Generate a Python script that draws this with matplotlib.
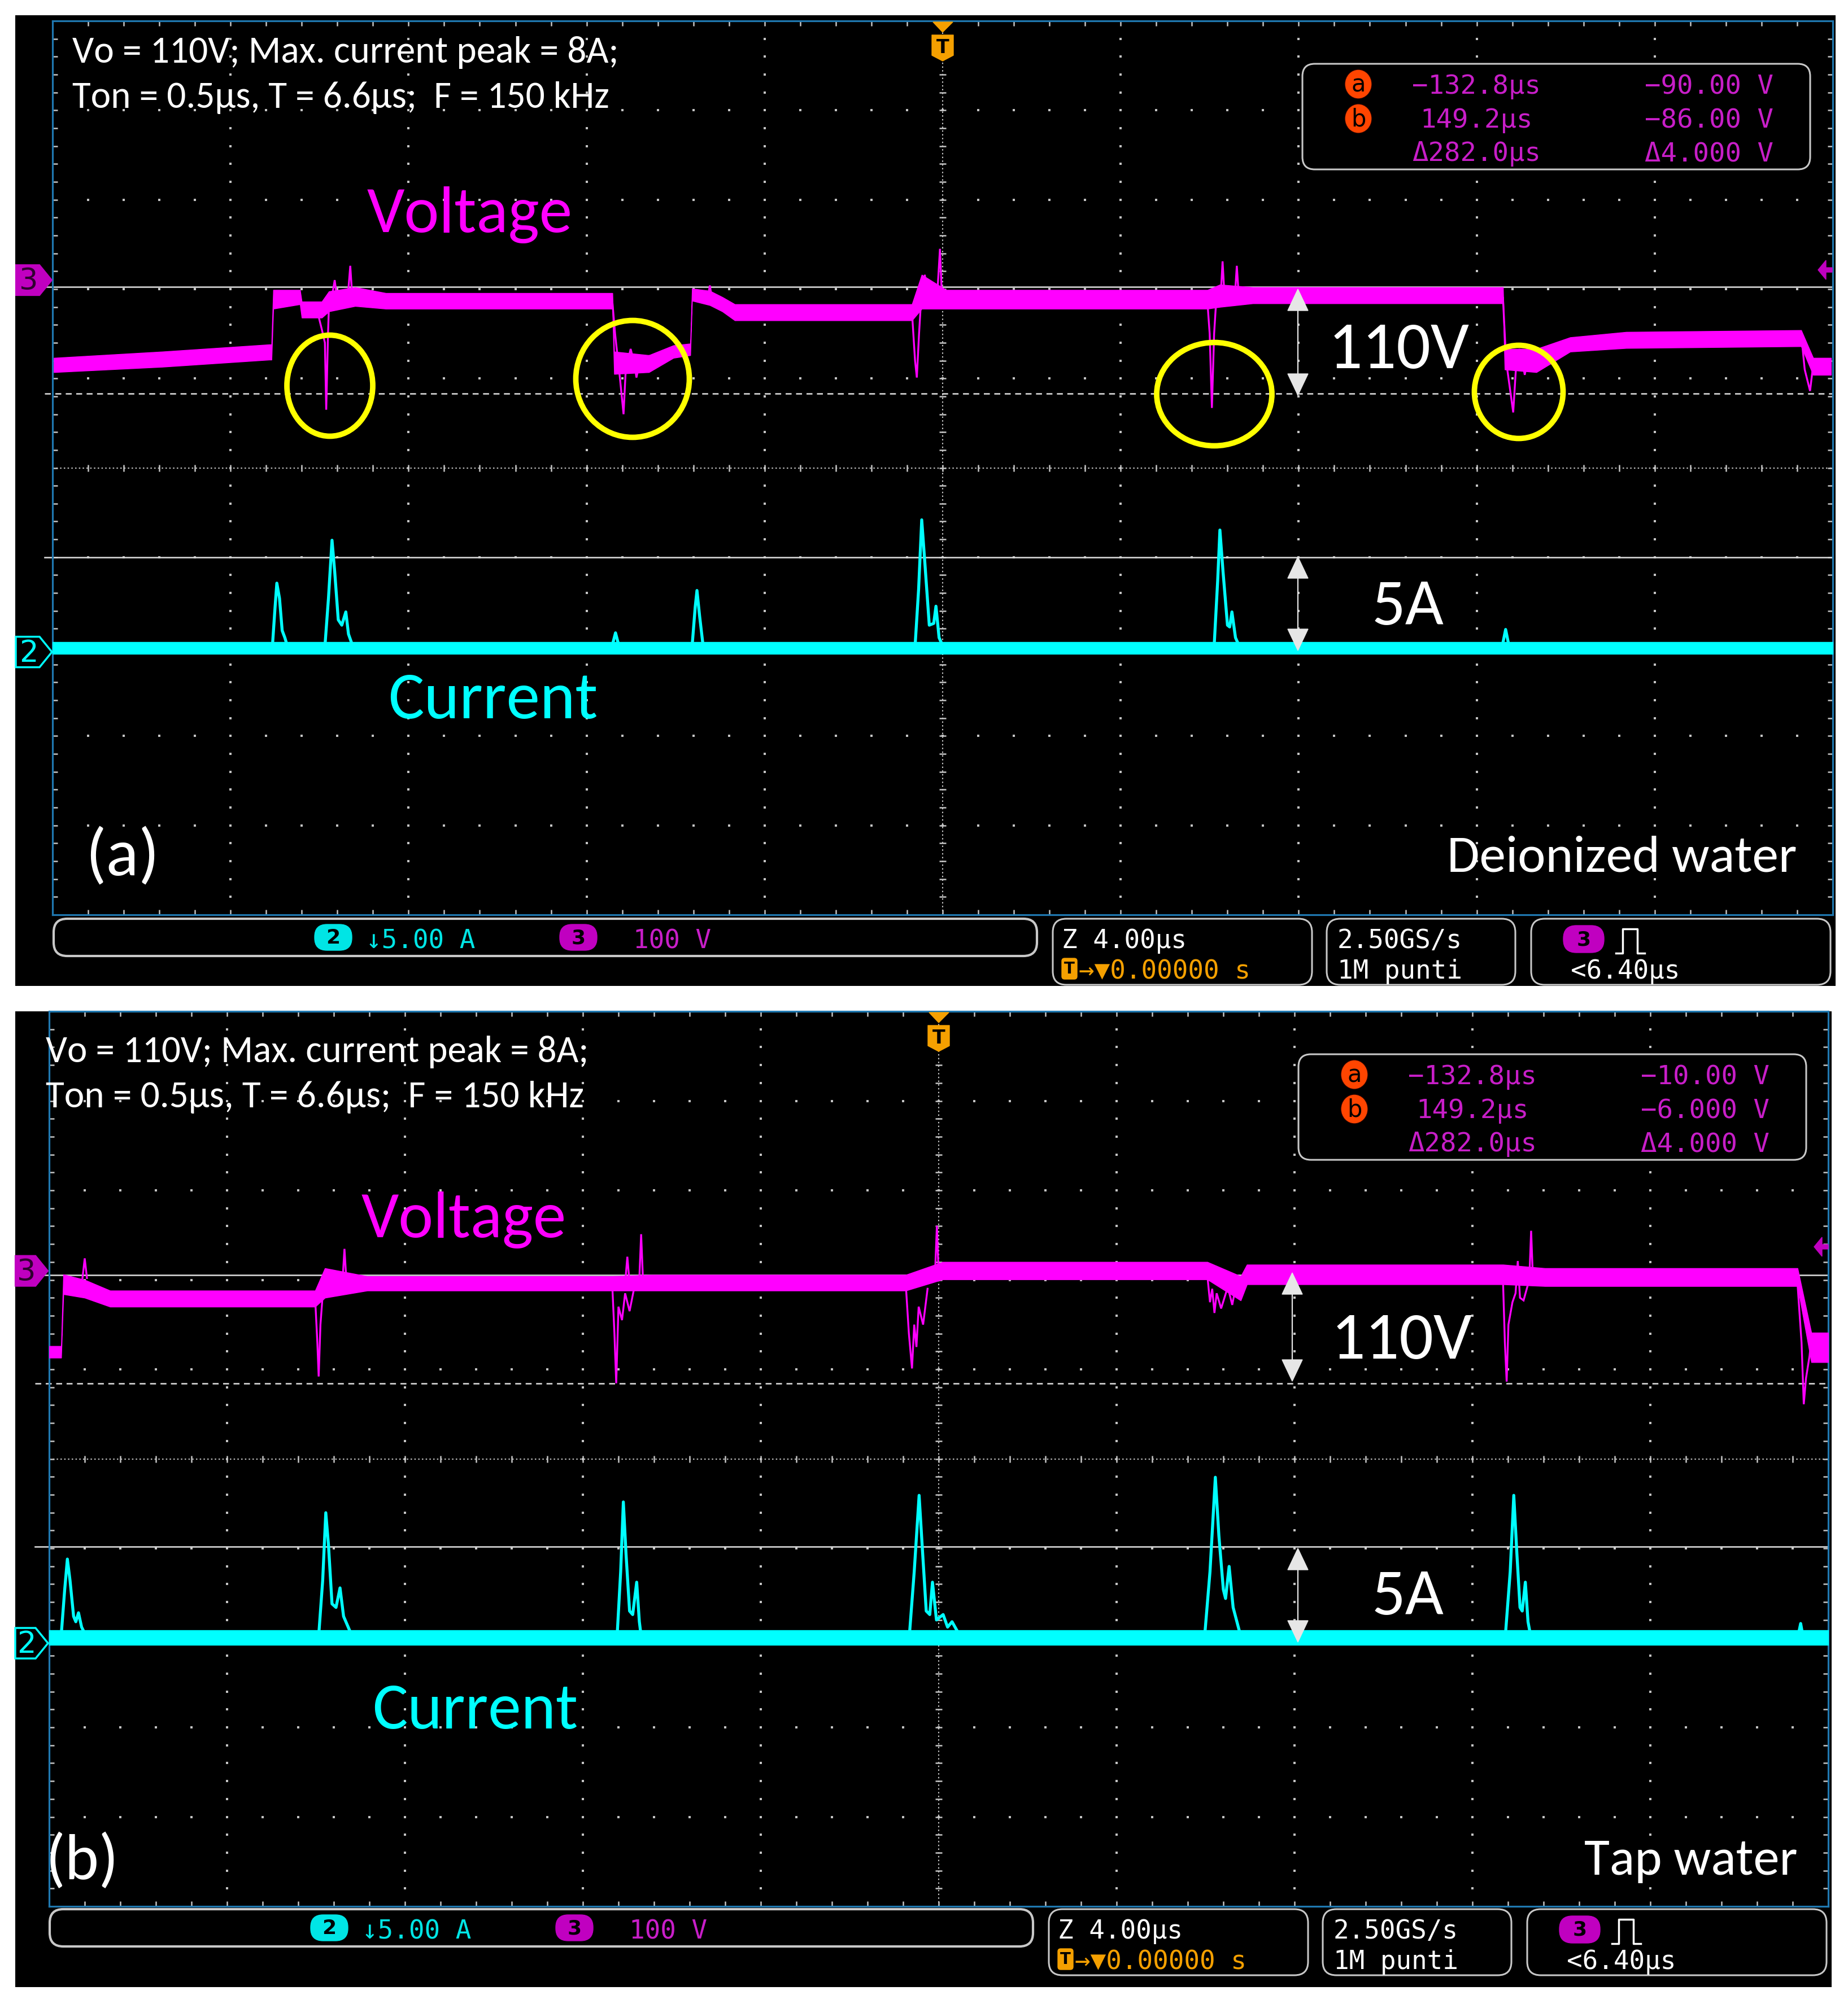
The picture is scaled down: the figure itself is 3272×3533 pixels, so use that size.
import numpy as np
import matplotlib
matplotlib.use("Agg")
import matplotlib.pyplot as plt
from matplotlib.patches import Rectangle, Polygon, Ellipse, FancyBboxPatch
from matplotlib import font_manager as fm

# ---------------------------------------------------------------- data
# oscilloscope settings: 4 us/div (10 div), ch3 100 V/div, ch2 5 A/div
T_RANGE = (-20.0, 20.0)
V_PER_DIV = 100.0
A_PER_DIV = 5.0
V_OFF_DIV = 2.10      # ch3 ground marker, divisions above centre
I_OFF_DIV = -2.06     # ch2 ground marker, divisions above centre

# ---- panel (a) deionized water : voltage band envelope (V)
VA_T   = [-19.97, -17.54, -15.13, -15.08, -15.04, -14.44, -14.40, -13.95, -13.79, -13.20,
          -12.51, -7.42, -7.38, -6.60, -6.05, -5.67, -5.63, -5.23, -4.95, -4.67,
          -0.69, -0.47, 0.08, 5.95, 6.23, 6.97, 12.59, 12.63, 13.34, 14.10,
          15.36, 19.29, 19.56, 19.96]
VA_TOP = [-87, -80, -72, -72, -11, -11, -24, -24, -12.6, -8,
          -14.5, -14.5, -80, -84, -73, -71, -9.5, -12, -19, -27,
          -27, 6, -11, -11, -5, -8, -8, -77, -77, -64,
          -58, -56, -87, -87]
VA_BOT = [-103, -97, -89, -89, -32, -27, -42, -42, -35, -29,
          -32, -32, -105, -103, -87, -84, -23, -28, -35, -45,
          -45, -32, -32, -32, -30, -26, -26, -100, -103, -80,
          -76, -74, -106, -106]
VA_SPIKES = [
    [(-14.05, -35), (-13.95, -55), (-13.88, -70), (-13.85, -145), (-13.81, -60), (-13.78, -15)],
    [(-13.70, -12), (-13.66, 0), (-13.62, -15)],
    [(-13.36, -15), (-13.31, 16), (-13.27, -15)],
    [(-7.42, -25), (-7.36, -60), (-7.25, -110), (-7.17, -150), (-7.12, -100), (-7.01, -77),
     (-6.92, -95), (-6.88, -109), (-6.80, -90), (-6.60, -85)],
    [(-5.28, -20), (-5.23, -6), (-5.18, -22)],
    [(-0.69, -35), (-0.62, -90), (-0.58, -109), (-0.53, -60), (-0.47, -10)],
    [(-0.45, -20), (-0.40, 6), (-0.35, -20)],
    [(-0.12, -15), (-0.06, 35), (-0.02, -15)],
    [(5.95, -25), (6.00, -60), (6.05, -143), (6.10, -60), (6.15, -20)],
    [(6.25, -15), (6.29, 21), (6.33, -15)],
    [(6.57, -15), (6.61, 16), (6.65, -15)],
    [(12.59, -20), (12.66, -90), (12.82, -148), (12.88, -100), (12.96, -77), (13.04, -95),
     (13.08, -106), (13.15, -85), (13.30, -80)],
    [(19.29, -60), (19.37, -100), (19.49, -124), (19.56, -95)],
]
IA_BAND = (0.55, -0.12)   # current baseline noise band (A)
IA_PULSES = [
    [(-15.06, 0.3), (-15.00, 2.5), (-14.96, 3.85), (-14.90, 3.0), (-14.84, 1.2), (-14.78, 0.8), (-14.72, 0.3)],
    [(-13.88, 0.3), (-13.80, 3.0), (-13.72, 6.25), (-13.66, 4.5), (-13.58, 1.8), (-13.50, 1.5),
     (-13.41, 2.24), (-13.35, 1.0), (-13.25, 0.3)],
    [(-7.42, 0.4), (-7.35, 1.07), (-7.28, 0.4)],
    [(-5.63, 0.3), (-5.56, 2.5), (-5.52, 3.44), (-5.46, 2.0), (-5.38, 0.3)],
    [(-0.62, 0.3), (-0.54, 3.5), (-0.47, 7.39), (-0.40, 5.0), (-0.30, 1.5), (-0.20, 1.6),
     (-0.15, 2.56), (-0.08, 0.8), (0.01, 0.3)],
    [(6.10, 0.3), (6.18, 4.0), (6.23, 6.82), (6.30, 4.5), (6.40, 1.5), (6.45, 1.4),
     (6.50, 2.24), (6.58, 0.8), (6.67, 0.3)],
    [(12.58, 0.4), (12.65, 1.26), (12.72, 0.4)],
]
CURSOR_V_A = (-7.6, -127.0)   # solid, dashed (V)
CURSOR_I_A = (5.3, 0.0)       # solid, dashed (A)
READOUT_A = [("−132.8µs", "−90.00 V"), ("149.2µs", "−86.00 V"), ("Δ282.0µs", "Δ4.000 V")]

# ---- panel (b) tap water
VB_T   = [-20.0, -19.73, -19.68, -19.20, -18.63, -14.02, -13.80, -12.85, -7.34, -6.44,
          -0.74, 0.09, 6.04, 6.79, 6.93, 12.69, 13.63, 19.31, 19.62, 20.0]
VB_TOP = [-84, -84, -4, -10, -22, -22, 3, -6, -6, -4.4,
          -4.4, 10, 10, -6, 7, 7, 3, 3, -69, -69]
VB_BOT = [-97, -97, -26, -30, -40, -40, -30, -22, -22, -22,
          -22, -9.5, -9.5, -33, -15, -15, -17, -17, -102, -102]
VB_SPIKES = [
    [(-19.25, -8), (-19.20, 14), (-19.15, -8)],
    [(-14.02, -30), (-13.97, -80), (-13.94, -118), (-13.90, -60), (-13.84, -20)],
    [(-13.40, -8), (-13.36, 24.6), (-13.32, -8)],
    [(-7.34, -15), (-7.29, -70), (-7.25, -125.6), (-7.20, -40), (-7.12, -55), (-7.05, -25),
     (-6.95, -45), (-6.85, -20)],
    [(-7.04, -8), (-7.00, 15.8), (-6.96, -8)],
    [(-6.73, -8), (-6.69, 41), (-6.65, -8)],
    [(-0.74, -15), (-0.67, -70), (-0.60, -109), (-0.55, -60), (-0.50, -85), (-0.45, -40),
     (-0.35, -60), (-0.25, -20)],
    [(-0.08, 0), (-0.04, 50.5), (0.00, -5)],
    [(6.04, -5), (6.10, -35), (6.15, -20), (6.20, -47), (6.25, -25), (6.35, -42), (6.50, -18),
     (6.60, -38), (6.70, -12)],
    [(12.69, -15), (12.73, -80), (12.77, -123.7), (12.81, -60), (12.90, -35), (12.97, -25),
     (13.02, 11), (13.07, -30), (13.15, -33), (13.25, -15)],
    [(13.28, -8), (13.32, 44.8), (13.36, -8)],
    [(19.31, -15), (19.40, -80), (19.45, -149), (19.50, -120), (19.58, -95), (19.62, -75)],
]
IB_BAND = (0.72, -0.08)
IB_PULSES = [
    [(-19.73, 0.4), (-19.65, 3.0), (-19.59, 4.7), (-19.53, 3.5), (-19.45, 1.5), (-19.40, 1.2),
     (-19.34, 1.7), (-19.27, 0.9), (-19.17, 0.4)],
    [(-13.94, 0.4), (-13.85, 3.5), (-13.78, 7.29), (-13.72, 5.5), (-13.64, 2.2), (-13.55, 2.0),
     (-13.46, 3.09), (-13.38, 1.5), (-13.19, 0.4)],
    [(-7.23, 0.4), (-7.15, 4.0), (-7.09, 7.89), (-7.03, 5.0), (-6.95, 1.8), (-6.88, 1.6),
     (-6.79, 3.41), (-6.73, 1.2), (-6.69, 0.4)],
    [(-0.66, 0.4), (-0.55, 4.0), (-0.44, 8.26), (-0.36, 5.0), (-0.28, 1.8), (-0.20, 1.6),
     (-0.14, 3.41), (-0.05, 1.3), (0.10, 1.6), (0.20, 0.9), (0.30, 1.2), (0.48, 0.4)],
    [(5.98, 0.4), (6.10, 4.0), (6.22, 9.27), (6.30, 6.0), (6.40, 3.0), (6.45, 2.5),
     (6.53, 4.29), (6.62, 2.0), (6.79, 0.4)],
    [(12.74, 0.4), (12.85, 4.0), (12.93, 8.26), (13.00, 5.0), (13.07, 2.0), (13.12, 1.8),
     (13.19, 3.41), (13.25, 1.2), (13.31, 0.4)],
    [(19.33, 0.5), (19.38, 1.1), (19.43, 0.4)],
]
CURSOR_V_B = (-4.4, -126.0)
CURSOR_I_B = (5.4, 0.0)
READOUT_B = [("−132.8µs", "−10.00 V"), ("149.2µs", "−6.000 V"), ("Δ282.0µs", "Δ4.000 V")]

TITLE_1 = "Vo = 110V; Max. current peak = 8A;"
TITLE_2 = "Ton = 0.5µs, T = 6.6µs;  F = 150 kHz"

# ---------------------------------------------------------------- style
W, H, DPI = 3272, 3533, 100
MAG = "#FF00FF"
CYAN = "#00FFFF"
GRID = "#C4C4C4"
SCOPE_MAG = "#C81EC8"
ORANGE = "#F5A000"
EDGE = "#C8C8C8"


def pick(fams):
    for f in fams:
        try:
            fm.findfont(fm.FontProperties(family=f), fallback_to_default=False)
            return f
        except Exception:
            pass
    return "DejaVu Sans"


SANS = pick(["Carlito", "Calibri", "Lato", "Open Sans"])
MONO = "DejaVu Sans Mono"
plt.rcParams["font.family"] = [SANS, "DejaVu Sans"]

fig = plt.figure(figsize=(W / DPI, H / DPI), dpi=DPI, facecolor="white")
bg = fig.add_axes([0, 0, 1, 1], zorder=0)
bg.set_xlim(0, W); bg.set_ylim(H, 0); bg.axis("off")
ov = fig.add_axes([0, 0, 1, 1], zorder=5)
ov.set_xlim(0, W); ov.set_ylim(H, 0); ov.axis("off")
REN = fig.canvas.get_renderer()


def ftext(x, y, s, width, family, color, ha="left", va="baseline", **kw):
    t = ov.text(x, y, s, fontsize=50, family=family, color=color, ha=ha, va=va, **kw)
    w = t.get_window_extent(renderer=REN).width
    t.set_fontsize(50 * width / w)
    return t


def mtext(x, y, s, color, size=33, ha="left", va="baseline", **kw):
    return ov.text(x, y, s, fontsize=size, family=[MONO, "DejaVu Sans"], color=color,
                   ha=ha, va=va, **kw)


def draw_grid(ax):
    yminor = np.round(np.arange(-5, 5.0001, 0.2), 6)
    xminor = np.round(np.arange(-20, 20.0001, 0.8), 6)
    xmaj = [x for x in range(-16, 17, 4) if x != 0]
    ymaj = [y for y in range(-4, 5) if y != 0]
    X, Y = np.meshgrid(xmaj, yminor[1:-1])
    ax.plot(X.ravel(), Y.ravel(), ls="none", marker="s", ms=2.6, mew=0, color=GRID, zorder=1)
    X, Y = np.meshgrid(xminor[1:-1], ymaj)
    ax.plot(X.ravel(), Y.ravel(), ls="none", marker="s", ms=2.6, mew=0, color=GRID, zorder=1)
    ax.axvline(0, color=GRID, lw=1.5, ls=(0, (1.2, 2.0)), zorder=1)
    ax.axhline(0, color=GRID, lw=1.5, ls=(0, (1.2, 2.0)), zorder=1)
    ax.plot(np.zeros_like(yminor), yminor, ls="none", marker="_", ms=9, mew=1.8, color=GRID, zorder=1)
    ax.plot(xminor, np.zeros_like(xminor), ls="none", marker="|", ms=9, mew=1.8, color=GRID, zorder=1)
    for yy in (5, -5):
        ax.plot(xminor, np.full_like(xminor, yy), ls="none", marker="|", ms=13, mew=1.8, color=GRID, zorder=1)
    for xx in (-20, 20):
        ax.plot(np.full_like(yminor, xx), yminor, ls="none", marker="_", ms=13, mew=1.8, color=GRID, zorder=1)


def yv(v):
    return V_OFF_DIV + np.asarray(v, dtype=float) / V_PER_DIV


def yi(i):
    return I_OFF_DIV + np.asarray(i, dtype=float) / A_PER_DIV


def draw_panel(g, vt, vtop, vbot, vspikes, iband, ipulses, cur_v, cur_i):
    l, r, t, b = g["grid"]
    ax = fig.add_axes([l / W, 1 - b / H, (r - l) / W, (b - t) / H], zorder=1)
    ax.set_facecolor("black")
    ax.set_xlim(*T_RANGE); ax.set_ylim(-5, 5)
    ax.set_xticks([]); ax.set_yticks([])
    for s in ax.spines.values():
        s.set_color("#1F78B0"); s.set_linewidth(2.3)
    draw_grid(ax)
    # cursor / reference lines
    x0 = T_RANGE[0] - (l - g["cur_x0"]) / (r - l) * (T_RANGE[1] - T_RANGE[0])
    for val, ls in zip(cur_v, ["-", (0, (4, 3))]):
        ax.plot([x0, T_RANGE[1]], [yv(val)] * 2, color="#D4D4D4", lw=1.9, ls=ls, clip_on=False, zorder=2)
    for val, ls in zip(cur_i, ["-", (0, (4, 3))]):
        ax.plot([x0, T_RANGE[1]], [yi(val)] * 2, color="#D4D4D4", lw=1.9, ls=ls, clip_on=False, zorder=2)
    # voltage trace
    ax.fill_between(vt, yv(vtop), yv(vbot), color=MAG, lw=1.0, zorder=3)
    for sp in vspikes:
        ts, vs = zip(*sp)
        ax.plot(ts, yv(vs), color=MAG, lw=2.4, zorder=3, solid_joinstyle="miter")
    # current trace
    ax.fill_between(list(T_RANGE), yi([iband[0]] * 2), yi([iband[1]] * 2), color=CYAN, lw=1.0, zorder=3)
    for p in ipulses:
        ts, vs = zip(*p)
        ax.plot(ts, yi(vs), color=CYAN, lw=3.8, zorder=3)
    return ax


def px_y(g, ydiv):
    l, r, t, b = g["grid"]
    return t + (5 - ydiv) * (b - t) / 10.0


def ch_marker(g, ydiv, xl, xtip, label, filled):
    yc = px_y(g, ydiv)
    h = 27
    pts = [(xl, yc - h), (xtip - 22, yc - h), (xtip, yc), (xtip - 22, yc + h), (xl, yc + h)]
    if filled:
        ov.add_patch(Polygon(pts, closed=True, fc="#C000C0", ec="#C000C0", lw=1.5))
        ov.text((xl + xtip - 18) / 2, yc + 2, label, color="#300030", fontsize=38, family="DejaVu Sans",
                ha="center", va="center")
    else:
        ov.add_patch(Polygon(pts, closed=True, fc="black", ec=CYAN, lw=2.5))
        ov.text((xl + xtip - 18) / 2, yc + 2, label, color=CYAN, fontsize=38, family="DejaVu Sans",
                ha="center", va="center")


def badge(cx, cy, w, h, color, label):
    ov.add_patch(FancyBboxPatch((cx - w / 2, cy - h / 2), w, h,
                                boxstyle="round,pad=0,rounding_size=%f" % (h / 2 - 1),
                                fc=color, ec=color, lw=1))
    ov.text(cx, cy + 1, label, color="black", fontsize=26, family="DejaVu Sans", weight="bold",
            ha="center", va="center")


def dbl_arrow(x, y1, y2):
    c = "#E6E6E6"
    hw, hl = 18, 38
    ov.plot([x, x], [y1 + hl - 2, y2 - hl + 2], color=c, lw=1.6)
    ov.add_patch(Polygon([(x - hw, y1 + hl), (x + hw, y1 + hl), (x, y1)], closed=True, fc=c, ec=c))
    ov.add_patch(Polygon([(x - hw, y2 - hl), (x + hw, y2 - hl), (x, y2)], closed=True, fc=c, ec=c))


def chrome(dx, dy, readout, trig_y):
    # trigger position marker
    cx = 1669 + dx
    ov.add_patch(Polygon([(cx - 17, 39 + dy), (cx + 18, 39 + dy), (cx, 57 + dy)], closed=True,
                         fc=ORANGE, ec=ORANGE))
    ov.add_patch(Polygon([(cx - 19, 62 + dy), (cx + 19, 62 + dy), (cx + 19, 98 + dy), (cx, 108 + dy),
                          (cx - 19, 98 + dy)], closed=True, fc=ORANGE, ec=ORANGE, lw=1, joinstyle="round"))
    ov.text(cx, 84 + dy, "T", color="black", fontsize=24, family="DejaVu Sans", weight="bold",
            ha="center", va="center")
    # trigger level arrow (right)
    ov.add_patch(Polygon([(3219 + dx, trig_y), (3233 + dx, trig_y - 17), (3233 + dx, trig_y - 4),
                          (3244 + dx, trig_y - 4), (3244 + dx, trig_y + 4), (3233 + dx, trig_y + 4),
                          (3233 + dx, trig_y + 17)], closed=True, fc="#C000C0", ec="#C000C0"))
    # cursor readout box
    ov.add_patch(FancyBboxPatch((2306 + dx, 113 + dy), 899, 187, boxstyle="round,pad=0,rounding_size=22",
                                fc="black", ec=EDGE, lw=2.2))
    for lab, by in zip(["a", "b"], [149, 210]):
        ov.add_patch(Ellipse((2405 + dx, by + dy), 48, 52, fc="#FF4500", ec="#200000", lw=1))
        ov.text(2405 + dx, by + dy + 1, lab, color="black", fontsize=30, family="DejaVu Sans",
                ha="center", va="center")
    for (c1, c2), bl in zip(readout, [166, 226, 285]):
        mtext(2614 + dx, bl + dy, c1, SCOPE_MAG, size=34, ha="center")
        mtext(3026 + dx, bl + dy, c2, SCOPE_MAG, size=34, ha="center")
    # bottom status bar
    ov.add_patch(FancyBboxPatch((95 + dx, 1627 + dy), 1741, 66, boxstyle="round,pad=0,rounding_size=24",
                                fc="black", ec=EDGE, lw=3))
    for x0, w in [(1864, 459), (2349, 334), (2711, 530)]:
        ov.add_patch(FancyBboxPatch((x0 + dx, 1627 + dy), w, 117, boxstyle="round,pad=0,rounding_size=24",
                                    fc="black", ec=EDGE, lw=2.2))
    badge(590 + dx, 1660 + dy, 66, 46, "#00E5E5", "2")
    mtext(648 + dx, 1679 + dy, "↓5.00 A", "#00E5E5", size=33)
    badge(1024 + dx, 1660 + dy, 66, 46, "#C000C0", "3")
    mtext(1121 + dx, 1679 + dy, "100 V", SCOPE_MAG, size=33)
    mtext(1880 + dx, 1679 + dy, "Z 4.00µs", "white", size=33)
    ov.add_patch(FancyBboxPatch((1880 + dx, 1697 + dy), 27, 37, boxstyle="round,pad=0,rounding_size=5",
                                fc=ORANGE, ec=ORANGE))
    ov.text(1893.5 + dx, 1716 + dy, "T", color="black", fontsize=20, family="DejaVu Sans", weight="bold",
            ha="center", va="center")
    mtext(1910 + dx, 1733 + dy, "→▼0.00000 s", ORANGE, size=33)
    mtext(2368 + dx, 1679 + dy, "2.50GS/s", "white", size=33)
    mtext(2368 + dx, 1733 + dy, "1M punti", "white", size=33)
    badge(2804 + dx, 1663 + dy, 72, 48, "#C000C0", "3")
    ov.plot(np.array([2861, 2873, 2873, 2899, 2899, 2912]) + dx,
            np.array([1688, 1688, 1645, 1645, 1688, 1688]) + dy, color="white", lw=2.5)
    mtext(2781 + dx, 1733 + dy, "<6.40µs", "white", size=33)


# ---------------------------------------------------------------- panels
GA = {"grid": (93, 3245, 37, 1620), "cur_x0": 79}
GB = {"grid": (87, 3237, 1791, 3376), "cur_x0": 62}

bg.add_patch(Rectangle((27, 27), 3250 - 27, 1746 - 27, fc="black", ec="none"))
bg.add_patch(Rectangle((27, 1791), 3243 - 27, 3519 - 1791, fc="black", ec="none"))

draw_panel(GA, VA_T, VA_TOP, VA_BOT, VA_SPIKES, IA_BAND, IA_PULSES, CURSOR_V_A, CURSOR_I_A)
draw_panel(GB, VB_T, VB_TOP, VB_BOT, VB_SPIKES, IB_BAND, IB_PULSES, CURSOR_V_B, CURSOR_I_B)

chrome(0, 0, READOUT_A, 478)
chrome(-7, 1754, READOUT_B, 2208)

ch_marker(GA, V_OFF_DIV, 28, 92, "3", True)
ch_marker(GA, I_OFF_DIV, 28, 92, "2", False)
ch_marker(GB, V_OFF_DIV, 27, 85, "3", True)
ch_marker(GB, I_OFF_DIV, 27, 85, "2", False)

# yellow circles (panel a)
for cx, cy, w, h in [(584, 683, 152, 179), (1120, 671, 201, 207), (2150, 698, 204, 183), (2689, 694, 157, 165)]:
    ov.add_patch(Ellipse((cx, cy), w, h, fill=False, ec="#FFFF00", lw=7))

dbl_arrow(2298, 512, 700)
dbl_arrow(2298, 986, 1152)
dbl_arrow(2288, 2254, 2446)
dbl_arrow(2298, 2742, 2908)

# annotation texts
ftext(128, 111, TITLE_1, 969, SANS, "white")
ftext(128, 191, TITLE_2, 953, SANS, "white")
ftext(650, 411, "Voltage", 364, SANS, MAG)
ftext(2352, 652, "110V", 250, SANS, "white")
ftext(2429, 1106, "5A", 128, SANS, "white")
ftext(687, 1272, "Current", 372, SANS, CYAN)
ftext(151, 1517, "(a)", 131, SANS, "white", va="center")
ftext(2562, 1543, "Deionized water", 620, SANS, "white")

ftext(81, 1881, TITLE_1, 962, SANS, "white")
ftext(81, 1961, TITLE_2, 954, SANS, "white")
ftext(640, 2191, "Voltage", 363, SANS, MAG)
ftext(2357, 2406, "110V", 250, SANS, "white")
ftext(2429, 2859, "5A", 128, SANS, "white")
ftext(659, 3061, "Current", 365, SANS, CYAN)
ftext(81, 3297, "(b)", 130, SANS, "white", va="center")
ftext(2805, 3320, "Tap water", 378, SANS, "white")

fig.savefig("out.png", dpi=DPI, facecolor="white")
